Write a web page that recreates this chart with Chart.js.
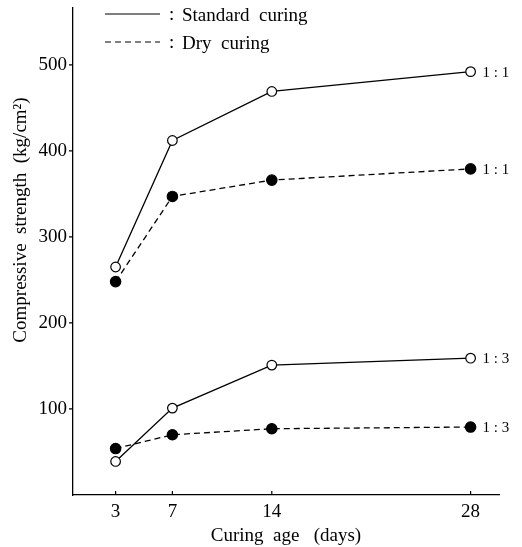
<!DOCTYPE html>
<html>
<head>
<meta charset="utf-8">
<title>Compressive strength vs curing age</title>
<script src="https://cdn.jsdelivr.net/npm/chart.js@4.4.1/dist/chart.umd.min.js"></script>
<style>
  html, body { margin: 0; padding: 0; background: #fff; }
  #wrap { width: 522px; height: 547px; }
</style>
</head>
<body>
<div id="wrap"><canvas id="chart"></canvas></div>
<script>
'use strict';

// ─── Data ────────────────────────────────────────────────────────────────────

const AGES    = [3, 7, 14, 28];              // curing age (days)
const STD_11  = [265, 412, 469, 492];        // standard curing, mix 1:1
const DRY_11  = [248, 347, 366, 379];        // dry curing, mix 1:1
const STD_13  = [39, 101, 151, 159];         // standard curing, mix 1:3
const DRY_13  = [54, 70, 77, 79];            // dry curing, mix 1:3
const MIXES   = ['1 : 1', '1 : 1', '1 : 3', '1 : 3'];
const Y_TICKS = [100, 200, 300, 400, 500];

const X_MAX = 30;
const Y_MAX = 566;

const SERIF = "'Liberation Serif', 'DejaVu Serif', 'Times New Roman', serif";
const INK   = '#000';

// ─── Helpers ─────────────────────────────────────────────────────────────────

function series(values, standard) {
  return {
    data: AGES.map((a, i) => ({ x: a, y: values[i] })),
    borderColor: INK,
    borderWidth: 1.3,
    borderDash: standard ? [] : [6, 4],
    pointRadius: standard ? 4.8 : 5.2,
    pointBorderWidth: 1.2,
    pointBorderColor: INK,
    pointBackgroundColor: standard ? '#fff' : INK,
    tension: 0,
  };
}

// no extra room for the outermost tick labels, the axes are placed by hand
function noEdgePadding(s) {
  s.paddingTop = s.paddingBottom = s.paddingLeft = s.paddingRight = 0;
}

// Tick marks, end-of-line mix labels, legend and rotated y title
const decor = {
  id: 'decor',
  afterDraw(chart) {
    const { ctx, chartArea: a, scales: { x, y } } = chart;
    ctx.save();
    ctx.strokeStyle = INK;
    ctx.fillStyle = INK;
    ctx.lineWidth = 1.2;

    // x ticks point up into the plot, y ticks point out to the left
    ctx.beginPath();
    AGES.forEach(v => {
      const px = x.getPixelForValue(v);
      ctx.moveTo(px, a.bottom);
      ctx.lineTo(px, a.bottom - 4);
    });
    Y_TICKS.forEach(v => {
      const py = y.getPixelForValue(v);
      ctx.moveTo(a.left, py);
      ctx.lineTo(a.left - 4, py);
    });
    ctx.stroke();

    // mix ratio next to the 28-day point of each curve
    ctx.font = `15px ${SERIF}`;
    ctx.textAlign = 'left';
    ctx.textBaseline = 'middle';
    chart.data.datasets.forEach((ds, i) => {
      const last = ds.data[ds.data.length - 1];
      ctx.fillText(MIXES[i], x.getPixelForValue(last.x) + 12, y.getPixelForValue(last.y) + 1);
    });

    // legend
    [[14, [], 'Standard  curing'], [42, [6, 4], 'Dry  curing']].forEach(([ly, dash, text]) => {
      ctx.setLineDash(dash);
      ctx.beginPath();
      ctx.moveTo(105, ly);
      ctx.lineTo(160, ly);
      ctx.stroke();
      ctx.setLineDash([]);
      ctx.font = `19px ${SERIF}`;
      ctx.fillText(':', 169, ly + 1);
      ctx.fillText(text, 182, ly + 2);
    });

    // y-axis title
    ctx.translate(21, 220);
    ctx.rotate(-Math.PI / 2);
    ctx.textAlign = 'center';
    ctx.font = `19px ${SERIF}`;
    ctx.fillText('Compressive  strength  (kg/cm²)', 0, 0);
    ctx.restore();
  },
};

// ─── Chart ───────────────────────────────────────────────────────────────────

new Chart(document.getElementById('chart'), {
  type: 'line',
  data: {
    datasets: [
      series(STD_11, true),
      series(DRY_11, false),
      series(STD_13, true),
      series(DRY_13, false),
    ],
  },
  options: {
    responsive: true,
    maintainAspectRatio: false,
    animation: false,
    layout: { padding: { top: 8, right: 23, left: 0, bottom: 0 } },
    plugins: {
      legend: { display: false },
      tooltip: { enabled: false },
    },
    scales: {
      x: {
        type: 'linear',
        min: 0,
        max: X_MAX,
        afterBuildTicks: s => { s.ticks = AGES.map(v => ({ value: v })); },
        afterFit: s => { s.height = 52; noEdgePadding(s); },
        grid: { display: false, drawTicks: false },
        border: { display: true, color: INK, width: 1.3 },
        ticks: { color: INK, font: { family: SERIF, size: 19 }, padding: 6, maxRotation: 0 },
        title: {
          display: true,
          text: 'Curing  age   (days)',
          color: INK,
          font: { family: SERIF, size: 19 },
          padding: { top: 0, bottom: 0 },
        },
      },
      y: {
        min: 0,
        max: Y_MAX,
        afterBuildTicks: s => { s.ticks = Y_TICKS.map(v => ({ value: v })); },
        afterFit: s => { s.width = 73; noEdgePadding(s); },
        grid: { display: false, drawTicks: false },
        border: { display: true, color: INK, width: 1.3 },
        ticks: { color: INK, font: { family: SERIF, size: 19 }, padding: 6 },
      },
    },
  },
  plugins: [decor],
});
</script>
</body>
</html>
